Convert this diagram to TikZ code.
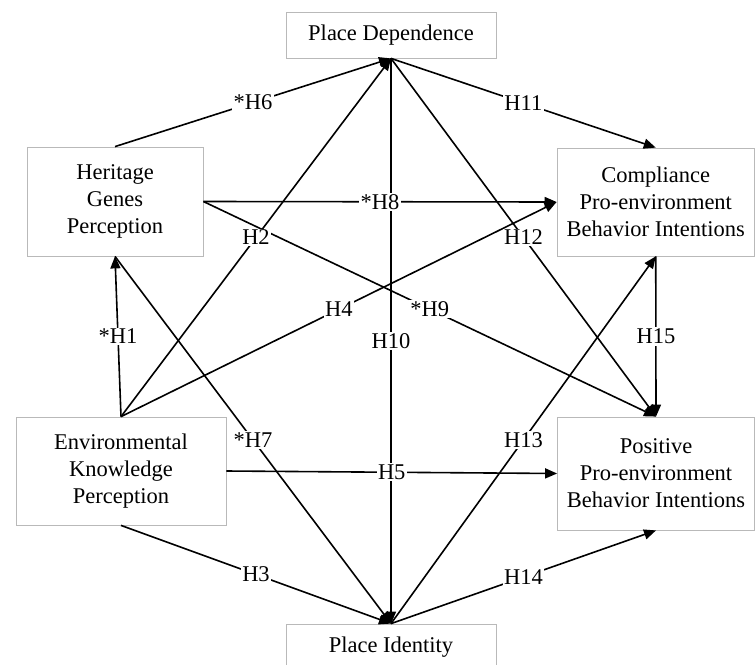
\documentclass[tikz,border=0pt]{standalone}
\usepackage{fontspec}
\setmainfont{Liberation Serif}
\usetikzlibrary{arrows.meta}

\begin{document}
\begin{tikzpicture}
[x=1pt,y=-1pt,
  boxdecorate/.style={draw=gray!55,line width=0.8pt,align=center,inner sep=0pt,
    font=\fontsize{22.5}{27}\selectfont},
  linedecorate/.style={-{Triangle[length=12pt,width=10pt]},line width=1.6pt},
  labeldecorate/.style={fill=white,inner sep=1.5pt,font=\fontsize{22.5}{27}\selectfont}]
\useasboundingbox (0,0) rectangle (755,664);
%% boxes or constructs
\foreach \nodename/\x/\y/\w/\h/\txt in {pd/391/35/210/46/Place Dependence,
  hgp/115/201.5/176/109/Heritage\\Genes\\Perception,
  cpb/655.75/202/197.5/108/Compliance\\Pro-environment\\Behavior Intentions,
  ekp/121/471/210/108/Environmental\\Knowledge\\Perception,
  ppb/656/473.5/197/113/Positive\\Pro-environment\\Behavior Intentions,
  pi/391/647/210/46/Place Identity} {
  \node (\nodename) at (\x,\y) [boxdecorate,minimum width=\w pt,minimum height=\h pt] {\txt};
}
%% hypotheses or paths
\def\hyplist{hgp.north/pd.south/*H6, ekp.north/pd.south/H2,
  pd.south/cpb.north/H11, hgp.east/cpb.west/*H8, ekp.north/cpb.west/H4,
  hgp.east/ppb.north/*H9, pd.south/ppb.north/H12, cpb.south/ppb.north/H15,
  pd.south/pi.north/H10, pi.north/cpb.south/H13, ekp.north/hgp.south/*H1,
  hgp.south/pi.north/*H7, ekp.east/ppb.west/H5, ekp.south/pi.north/H3,
  pi.north/ppb.south/H14}
\path
\foreach \startnode/\endnode/\hyp in \hyplist {
  (\startnode) edge[linedecorate] (\endnode)
};
%% labels on top
\foreach \startnode/\endnode/\hyp in \hyplist {
  \path (\startnode) -- (\endnode) node[midway,labeldecorate] {\hyp};
}
\end{tikzpicture}
\end{document}
